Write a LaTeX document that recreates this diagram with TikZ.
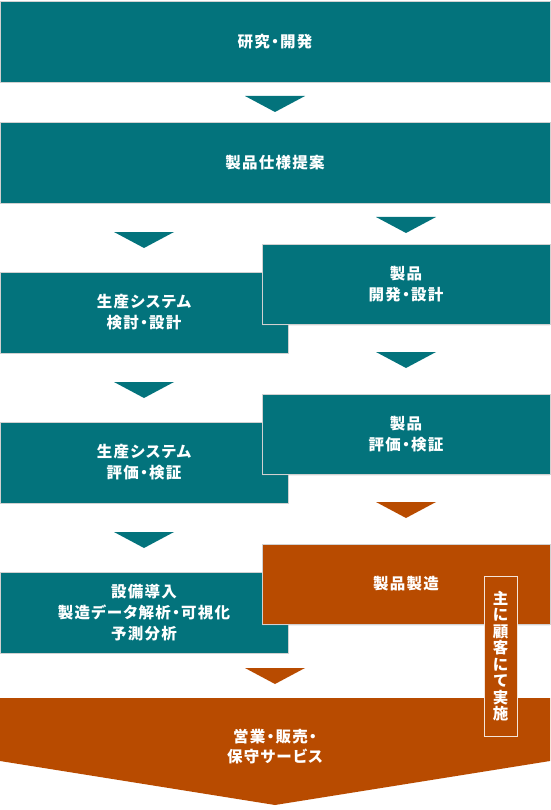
\documentclass[tikz,border=0pt]{standalone}
\usepackage{fontspec}
\setmainfont{Noto Sans CJK JP}[RawFeature={+palt},LetterSpace=8]
\usetikzlibrary{shadows}
\definecolor{tealc}{HTML}{03737C}
\definecolor{orangec}{HTML}{B84B00}
\begin{document}
\begin{tikzpicture}[x=1pt,y=-1pt,
  box/.style={fill=tealc, draw=black!18, line width=0.6pt, text=white, align=center,
    font=\fontsize{15.5}{21}\selectfont\bfseries, inner sep=0pt},
  obox/.style={box, fill=orangec},
  raised/.style={drop shadow={opacity=0.12, shadow xshift=0pt, shadow yshift=-2pt}},
  tri/.style={fill=tealc},
  otri/.style={fill=orangec},
  note/.style={draw=white!85!orangec, line width=0.8pt, fill=orangec, text=white, align=center,
    font=\fontsize{15.5}{16.5}\selectfont\bfseries, inner sep=0pt,
    minimum width=33, minimum height=160}]
\useasboundingbox (0,0) rectangle (550,810);
% full-width boxes
\node[box, minimum width=550, minimum height=81] (a) at (275,41.5) {研究・開発};
\node[box, minimum width=550, minimum height=81] (b) at (275,162.5) {製品仕様提案};
% left column
\node[box, minimum width=288, minimum height=81] (l1) at (144,312.5) {生産システム\\検討・設計};
\node[box, minimum width=288, minimum height=81] (l2) at (144,462.5) {生産システム\\評価・検証};
\node[box, minimum width=288, minimum height=81] (l3) at (144,612.5) {設備導入\\製造データ解析・可視化\\予測分析};
% right column
\node[box, raised, minimum width=288, minimum height=80] (r1) at (406,284) {製品\\開発・設計};
\node[box, raised, minimum width=288, minimum height=80] (r2) at (406,434) {製品\\評価・検証};
\node[obox, raised, minimum width=288, minimum height=80] (r3) at (406,584) {製品製造};
% bottom pentagon
\fill[orangec] (0,698) -- (550,698) -- (550,761) -- (275,805) -- (0,761) -- cycle;
\node[text=white, align=center, font=\fontsize{15.5}{20}\selectfont\bfseries] (s) at (275,747) {営業・販売・\\保守サービス};
% triangles
\fill[tri]  (245,96)  -- (305,96)  -- (275,112) -- cycle;
\fill[tri]  (114,232) -- (174,232) -- (144,248) -- cycle;
\fill[tri]  (376,217) -- (436,217) -- (406,233) -- cycle;
\fill[tri]  (376,352) -- (436,352) -- (406,368) -- cycle;
\fill[tri]  (114,382) -- (174,382) -- (144,398) -- cycle;
\fill[otri] (376,502) -- (436,502) -- (406,518) -- cycle;
\fill[tri]  (114,532) -- (174,532) -- (144,548) -- cycle;
\fill[otri] (245,668) -- (305,668) -- (275,684) -- cycle;
% note label
\node[note] (n) at (500.5,656) {主\\に\\顧\\客\\に\\て\\実\\施};
\end{tikzpicture}
\end{document}
